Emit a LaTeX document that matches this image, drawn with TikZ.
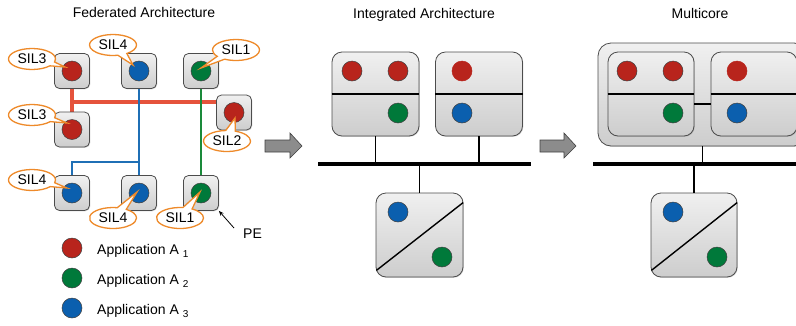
\documentclass[tikz,border=0pt]{standalone}
\usepackage{fontspec}
\setmainfont{Liberation Sans}
\usetikzlibrary{shapes.callouts,shadows,calc,arrows.meta}
\definecolor{appred}{HTML}{B8241C}
\definecolor{appgreen}{HTML}{00793A}
\definecolor{appblue}{HTML}{0B5FAE}
\definecolor{linered}{HTML}{E5533C}
\definecolor{lineblue}{HTML}{1F6FB5}
\definecolor{linegreen}{HTML}{1A8A3A}
\definecolor{calloutorange}{HTML}{EE8A2A}
\definecolor{boxtop}{HTML}{F0F0F0}
\definecolor{boxbot}{HTML}{CDCDCD}
\pgfdeclarelayer{background}
\pgfsetlayers{background,main}
\begin{document}
\begin{tikzpicture}[x=1pt,y=-1pt,font=\fontsize{14}{16}\selectfont,
  boxbase/.style={draw=black!70, line width=0.8pt, top color=boxtop, bottom color=boxbot,
    drop shadow={shadow xshift=0.8pt, shadow yshift=-0.8pt, opacity=0.3}, inner sep=0pt},
  pebox/.style={boxbase, rounded corners=5pt, minimum width=35pt, minimum height=35pt},
  bigbox/.style={boxbase, rounded corners=10pt, minimum width=87pt, minimum height=84pt},
  innerbox/.style={boxbase, rounded corners=10pt, minimum width=86pt, minimum height=84pt},
  outerbox/.style={boxbase, rounded corners=13pt, minimum width=209pt, minimum height=103pt},
  appdot/.style={circle, minimum size=20pt, inner sep=0pt, draw=black!75, line width=0.5pt},
  sil/.style={ellipse callout, draw=calloutorange, line width=1.3pt, fill=white,
    minimum width=47pt, minimum height=21pt, inner sep=0pt, callout pointer arc=24},
  redline/.style={linered, line width=3.6pt},
  blueline/.style={lineblue, line width=2.4pt},
  greenline/.style={linegreen, line width=2.4pt},
  conn/.style={black, line width=1.4pt},
  bus/.style={black, line width=4.8pt},
  bigarrow/.style={draw=black!75, line width=0.6pt, fill=black!45},
  label/.style={inner sep=0pt}]
\useasboundingbox (0,0) rectangle (796,325);

% titles
\node[label, anchor=base] (t1) at (144,17) {Federated Architecture};
\node[label, anchor=base] (t2) at (424,18) {Integrated Architecture};
\node[label, anchor=base] (t3) at (700,18) {Multicore};

% ---------- Federated ----------
\node[pebox] (b1) at (72,71) {};
\node[pebox] (b2) at (139,71) {};
\node[pebox] (b3) at (201,71) {};
\node[pebox] (b4) at (72,129.5) {};
\node[pebox] (b5) at (234,112.5) {};
\node[pebox] (b7) at (72,193) {};
\node[pebox] (b8) at (139,193) {};
\node[pebox] (b9) at (201,193) {};

\coordinate (rj) at (72,102);
\coordinate (bj) at (139,162);
\begin{pgfonlayer}{background}
\draw[redline] (b1.south) -- (b4.north);
\draw[redline] ($(rj)+(-1.8,0)$) -- (rj -| b5.west);
\draw[blueline] (b2.south) -- (b8.north);
\draw[blueline] (b7.north) |- (bj);
\draw[greenline] (b3.south) -- (b9.north);
\end{pgfonlayer}

\node[appdot, fill=appred] (d1) at (b1) {};
\node[appdot, fill=appblue] (d2) at (b2) {};
\node[appdot, fill=appgreen] (d3) at (b3) {};
\node[appdot, fill=appred] (d4) at (b4) {};
\node[appdot, fill=appred] (d5) at (b5) {};
\node[appdot, fill=appblue] (d7) at (b7) {};
\node[appdot, fill=appblue] (d8) at (b8) {};
\node[appdot, fill=appgreen] (d9) at (b9) {};

% callouts
\node[sil, callout absolute pointer={(65,67)}] (s1) at (32,59) {SIL3};
\node[sil, callout absolute pointer={(133,65)}] (s2) at (113,45) {SIL4};
\node[sil, callout absolute pointer={(201,68)}] (s3) at (236,50) {SIL1};
\node[sil, callout absolute pointer={(67,123)}] (s4) at (32,115) {SIL3};
\node[sil, callout absolute pointer={(235,118)}] (s5) at (227,141) {SIL2};
\node[sil, callout absolute pointer={(67,188)}] (s7) at (32,180) {SIL4};
\node[sil, callout absolute pointer={(137,192)}] (s8) at (113,218) {SIL4};
\node[sil, callout absolute pointer={(200,192)}] (s9) at (180,218) {SIL1};

% PE
\node[label, anchor=base west] (pe) at (243,238) {PE};
\coordinate (pearr) at (234,228);
\draw[black, line width=0.8pt, -{Stealth[length=5pt,width=4pt]}] (pearr) -- (b9.south east);

% legend
\node[appdot, fill=appred] (l1) at (72,248) {};
\node[appdot, fill=appgreen] (l2) at (72,278) {};
\node[appdot, fill=appblue] (l3) at (72,308) {};
\node[label, anchor=base west] (lt1) at (97,254) {Application A \raisebox{-3pt}{\fontsize{10}{10}\selectfont 1}};
\node[label, anchor=base west] (lt2) at (97,284) {Application A \raisebox{-3pt}{\fontsize{10}{10}\selectfont 2}};
\node[label, anchor=base west] (lt3) at (97,314) {Application A \raisebox{-3pt}{\fontsize{10}{10}\selectfont 3}};

% big arrows
\path[bigarrow] (265,140) -- (290,140) -- (290,133) -- (302,146) -- (290,158) -- (290,152) -- (265,152) -- cycle;
\path[bigarrow] (540,140) -- (564,140) -- (564,133) -- (576,146) -- (564,158) -- (564,152) -- (540,152) -- cycle;

% ---------- Integrated ----------
\node[bigbox] (ia) at (375.5,94) {};
\node[bigbox] (ib) at (479,94) {};
\node[bigbox] (ic) at (419.5,235) {};
\draw[conn] (ia.west) -- (ia.east);
\draw[conn] (ib.west) -- (ib.east);
\node[appdot, fill=appred] (ia1) at (352,71) {};
\node[appdot, fill=appred] (ia2) at (398,71) {};
\node[appdot, fill=appgreen] (ia3) at (398,113) {};
\node[appdot, fill=appred, draw=appred] (ib1) at (462,71) {};
\node[appdot, fill=appblue] (ib2) at (462,113) {};
\coordinate (busL) at (318,164);
\coordinate (busR) at (531,164);
\draw[bus] (busL) -- (busR);
\draw[conn] (ia.south) -- (ia.south |- busL);
\draw[conn] (ib.south) -- (ib.south |- busL);
\draw[conn] (ic.north) -- (ic.north |- busL);
\draw[conn] ($(ic.south west)+(0.8,-7)$) -- ($(ic.north east)+(-0.3,10)$);
\node[appdot, fill=appblue] (ic1) at (398,212) {};
\node[appdot, fill=appgreen] (ic2) at (442,257) {};

% ---------- Multicore ----------
\node[outerbox] (mo) at (702.5,94.5) {};
\node[innerbox] (mi1) at (651,94) {};
\node[innerbox] (mi2) at (754,94) {};
\draw[conn] (mi1.west) -- (mi1.east);
\draw[conn] (mi2.west) -- (mi2.east);
\draw[conn] (mi1.east |- 0,104) -- (mi2.west |- 0,104);
\node[appdot, fill=appred] (m1) at (627,71) {};
\node[appdot, fill=appred] (m2) at (673,71) {};
\node[appdot, fill=appgreen] (m3) at (673,113) {};
\node[appdot, fill=appred, draw=appred] (m4) at (737,71) {};
\node[appdot, fill=appblue] (m5) at (737,113) {};
\coordinate (busML) at (593,164);
\coordinate (busMR) at (800,164);
\draw[bus] (busML) -- (busMR);
\draw[conn] (mo.south) -- (mo.south |- busML);
\node[bigbox, minimum width=86pt] (md) at (694,235) {};
\draw[conn] (md.north) -- (md.north |- busML);
\draw[conn] ($(md.south west)+(0.8,-7)$) -- ($(md.north east)+(-0.3,10)$);
\node[appdot, fill=appblue] (md1) at (673,212) {};
\node[appdot, fill=appgreen] (md2) at (717,257) {};
\end{tikzpicture}
\end{document}
